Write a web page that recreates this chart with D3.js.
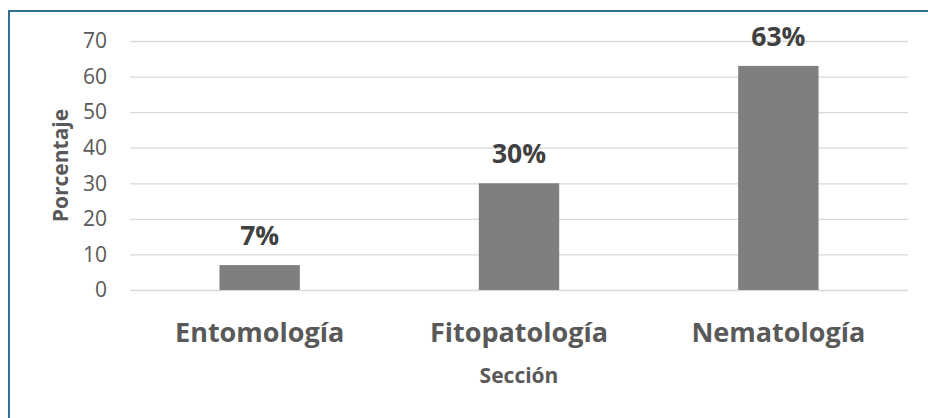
<!DOCTYPE html>
<html><head><meta charset="utf-8">
<script src="https://cdn.jsdelivr.net/npm/d3@7"></script>
<style>body{margin:0;background:#fff}svg{display:block}text{font-family:"Open Sans",sans-serif}</style>
</head><body>
<svg id="c" width="928" height="418"></svg>
<script>
const categories = ["Entomología", "Fitopatología", "Nematología"];
const values = [7, 30, 63];
const valueLabels = ["7%", "30%", "63%"];
const yTicks = [0, 10, 20, 30, 40, 50, 60, 70];

(function () {
const svg = d3.select("#c");
const pL = 130, pR = 908, pT = 41, pB = 290;

// outer frame (only left & top edges visible in the crop)
svg.append("rect").attr("x", 9).attr("y", 11).attr("width", 940).attr("height", 440)
  .attr("fill", "none").attr("stroke", "#2f6f8f").attr("stroke-width", 2);

const x = d3.scaleBand().domain(categories).range([pL, pR]).paddingInner(0.69).paddingOuter(0.345);
const y = d3.scaleLinear().domain([0, 70]).range([pB, pT]);

const yAxis = svg.append("g").attr("transform", `translate(${pL},0)`)
  .call(d3.axisLeft(y).tickValues(yTicks).tickSize(-(pR - pL)).tickPadding(23));
yAxis.select(".domain").remove();
yAxis.selectAll(".tick line").attr("stroke", "#d9d9d9").attr("stroke-width", 1.3);
yAxis.selectAll(".tick text").attr("fill", "#595959").style("font-size", "21px")
  .style("font-family", "'Open Sans', sans-serif");

svg.append("g").selectAll("rect").data(values).join("rect")
  .attr("x", (d, i) => x(categories[i])).attr("width", x.bandwidth())
  .attr("y", d => y(d)).attr("height", d => y(0) - y(d)).attr("fill", "#7f7f7f");

svg.append("g").selectAll("text").data(values).join("text")
  .attr("x", (d, i) => x(categories[i]) + x.bandwidth() / 2)
  .attr("y", d => y(d) - 20).attr("text-anchor", "middle")
  .attr("fill", "#404040").style("font-size", "26.5px").style("font-weight", "bold")
  .text((d, i) => valueLabels[i]);

const xAxis = svg.append("g").attr("transform", `translate(0,${pB})`)
  .call(d3.axisBottom(x).tickSize(0).tickPadding(0));
xAxis.select(".domain").remove();
xAxis.selectAll(".tick text").attr("fill", "#595959").attr("dy", null).attr("y", 52)
  .style("font-size", "27px").style("font-weight", "bold").style("font-family", "'Open Sans', sans-serif");

svg.append("text").attr("x", (pL + pR) / 2).attr("y", 383).attr("text-anchor", "middle")
  .attr("fill", "#595959").style("font-size", "21px").style("font-weight", "bold").text("Sección");

svg.append("text").attr("transform", `translate(68,${(pT + pB) / 2}) rotate(-90)`)
  .attr("text-anchor", "middle").attr("fill", "#595959")
  .style("font-size", "21px").style("font-weight", "bold").text("Porcentaje");
})();
</script>
</body></html>
